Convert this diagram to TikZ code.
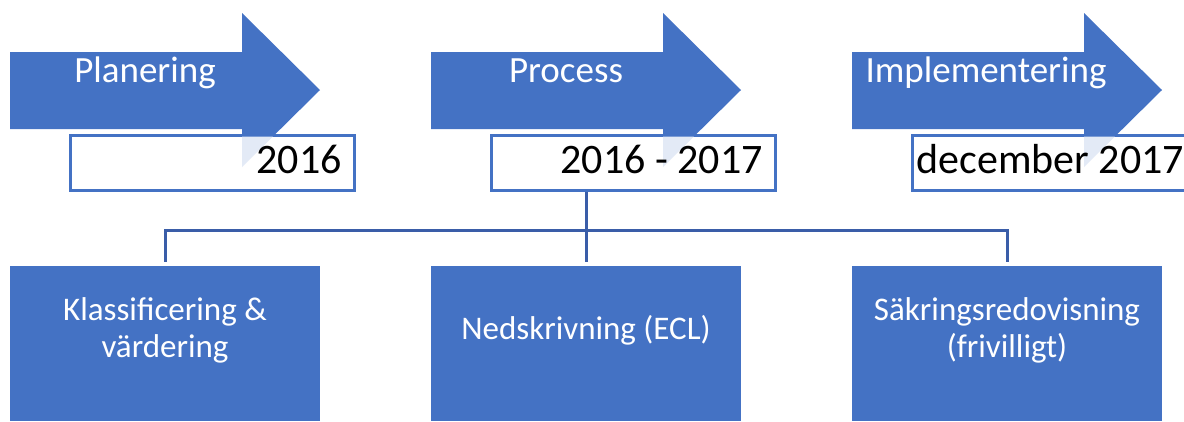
\documentclass[tikz,border=0pt]{standalone}
\usepackage{fontspec}
\setmainfont{Carlito}
\usetikzlibrary{positioning}
\definecolor{officeblue}{HTML}{4472C4}
\definecolor{linkblue}{HTML}{3A5DA8}
\def\phasearrow(#1){\fill[officeblue] (#1,52) -- ++(232,0) -- ++(0,-39) -- ++(78,77) -- ++(-78,77) -- ++(0,-38) -- ++(-232,0) -- cycle;}
\def\fadedhead(#1){\fill[officeblue!15] ({#1+232},136.5) -- ({#1+262.9},136.5) -- ({#1+232},167) -- cycle;}
\tikzset{
	phaselabel/.style={text=white, font=\fontsize{37}{44}\selectfont, anchor=base, inner sep=0pt},
	datebox/.style={draw=officeblue, line width=3pt, fill=white, minimum width=284pt, minimum height=55pt, inner sep=0pt},
	datetext/.style={text=black, font=\fontsize{42}{48}\selectfont, anchor=base east, inner sep=0pt},
	stagebox/.style={fill=officeblue, minimum width=310pt, minimum height=155pt, inner sep=0pt},
	stagetext/.style={text=white, font=\fontsize{33}{37}\selectfont, align=center, inner sep=0pt},
	link/.style={draw=linkblue, line width=3pt, shorten <=4pt, shorten >=4pt}
}
\begin{document}
\begin{tikzpicture}[x=1pt, y=-1pt]
			%%%%% START %%%%%
			\useasboundingbox (0,0) rectangle (1184,421);
			\clip (0,0) rectangle (1184,421);
			
			\phasearrow(10)
			\phasearrow(431)
			\phasearrow(852)
			
			\node[phaselabel] (planLabel) at (145,82) {Planering};
			\node[phaselabel] (procLabel) at (566,82) {Process};
			\node[phaselabel] (implLabel) at (986,82) {Implementering};
			
			\node[datebox] (dateOne) at (212,162.5) {};
			\node[datebox] (dateTwo) at (633,162.5) {};
			\node[datebox] (dateThree) at (1054,162.5) {};
			
			% arrow heads seen through the date boxes
			\fadedhead(10)
			\fadedhead(431)
			\fadedhead(852)
			
			\node[datetext] (yearOne) at (342,173) {2016};
			\node[datetext] (yearTwo) at (763,173) {2016 - 2017};
			\node[datetext] (yearThree) at (1184,173) {december 2017};
			
			\node[stagebox] (klassBox) at (165,343.5) {};
			\node[stagebox] (nedBox) at (586,343.5) {};
			\node[stagebox] (sakBox) at (1007,343.5) {};
			
			\node[stagetext] (klassText) at (165,330) {Klassificering \&\\värdering};
			\node[stagetext] (nedText) at (586,330) {Nedskrivning (ECL)};
			\node[stagetext] (sakText) at (1007,330) {Säkringsredovisning\\(frivilligt)};
			
			\coordinate (busLevel) at (0,230);
			\draw[link, shorten <=0pt] (dateTwo.south -| nedBox.north) -- (nedBox.north);
			\draw[link] (klassBox.north) |- (busLevel -| nedBox.north) -| (sakBox.north);
			
			%%%%% END %%%%%
\end{tikzpicture}
\end{document}
